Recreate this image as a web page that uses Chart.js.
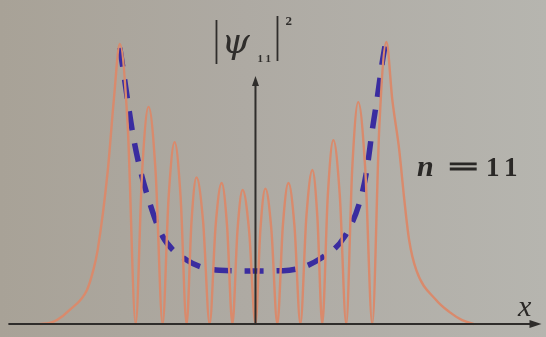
<!DOCTYPE html>
<html>
<head>
<meta charset="utf-8">
<script src="https://cdn.jsdelivr.net/npm/chart.js@4/dist/chart.umd.min.js"></script>
<style>
  html, body { margin: 0; padding: 0; }
  body { width: 546px; height: 337px; background: linear-gradient(90deg, #a8a297 0%, #aeaaa3 45%, #b6b5af 100%); }
  canvas { display: block; }
</style>
</head>
<body>
<canvas id="psiChart" width="546" height="337"></canvas>
<script>
// |psi_11|^2 density, read as (x, y) points: tails, peaks, shoulders and zeros
const psiX = [-7.2, -6.87, -6.63, -6.2, -5.63, -5.43, -5.27, -4.93, -4.73, -4.53, -4.265,
              -4.00, -3.785, -3.57, -3.335, -3.10, -2.90, -2.70, -2.50, -2.30, -2.135, -1.97, -1.75,
              -1.53, -1.33, -1.13, -0.95, -0.77, -0.60, -0.43, -0.215,
              0, 0.165, 0.33, 0.53, 0.73, 0.915, 1.10, 1.30, 1.50, 1.70, 1.90, 2.065,
              2.23, 2.415, 2.60, 2.815, 3.03, 3.23, 3.43, 3.665, 3.90, 4.135, 4.37,
              4.57, 4.80, 4.97, 5.13, 5.37, 6.03, 6.47, 6.90, 7.30];
const psiY = [0, 0.004, 0.014, 0.05, 0.12, 0.185, 0.262, 0.546, 0.794, 0.993, 0.70,
              0, 0.54, 0.77, 0.54, 0, 0.45, 0.645, 0.45, 0, 0.365, 0.52, 0.365,
              0, 0.35, 0.50, 0.35, 0, 0.333, 0.475, 0.333,
              0, 0.336, 0.48, 0.336, 0, 0.35, 0.50, 0.35, 0, 0.382, 0.546, 0.382,
              0, 0.456, 0.652, 0.456, 0, 0.55, 0.787, 0.55, 0, 0.70, 1.0,
              0.794, 0.617, 0.44, 0.298, 0.191, 0.085, 0.043, 0.014, 0];

// classical probability density (dashed)
const classX = [-4.53, -4.43, -4.27, -4.10, -3.87, -3.53, -3.13, -2.30, -1.20, 0,
                1.13, 2.20, 2.97, 3.47, 3.70, 3.90, 4.07, 4.23, 4.33];
const classY = [0.979, 0.911, 0.794, 0.677, 0.557, 0.429, 0.316, 0.227, 0.191, 0.188,
                0.191, 0.234, 0.309, 0.429, 0.535, 0.688, 0.805, 0.926, 0.99];

const xRange = [-8.53, 9.7];
const yRange = [-0.046, 1.149];
const xAxisEnd = [-8.25, 9.35];
const yAxisTop = 0.865;

const toPoints = (xs, ys) => xs.map((x, i) => ({ x: x, y: ys[i] }));

// axes, arrows and labels drawn on top of the plot
const decorations = {
  id: 'decorations',
  afterDatasetsDraw(chart) {
    const ctx = chart.ctx;
    const sx = chart.scales.x, sy = chart.scales.y;
    const y0 = sy.getPixelForValue(0);
    const x0 = sx.getPixelForValue(0);
    const xl = sx.getPixelForValue(xAxisEnd[0]);
    const xr = sx.getPixelForValue(xAxisEnd[1]);
    const yt = sy.getPixelForValue(yAxisTop);

    ctx.save();
    ctx.strokeStyle = '#2f2d2b';
    ctx.fillStyle = '#2f2d2b';
    ctx.lineWidth = 2;
    ctx.beginPath();
    ctx.moveTo(xl, y0); ctx.lineTo(xr, y0);
    ctx.moveTo(x0, y0); ctx.lineTo(x0, yt + 4);
    ctx.stroke();

    // arrow heads
    ctx.beginPath();
    ctx.moveTo(xr + 6, y0); ctx.lineTo(xr - 6, y0 - 4); ctx.lineTo(xr - 6, y0 + 4);
    ctx.closePath(); ctx.fill();
    ctx.beginPath();
    ctx.moveTo(x0, yt - 4); ctx.lineTo(x0 - 3.5, yt + 6); ctx.lineTo(x0 + 3.5, yt + 6);
    ctx.closePath(); ctx.fill();

    // |psi_11|^2
    ctx.lineWidth = 1.8;
    ctx.beginPath();
    ctx.moveTo(x0 - 39, 20); ctx.lineTo(x0 - 39, 64);
    ctx.moveTo(x0 + 22, 16); ctx.lineTo(x0 + 22, 61);
    ctx.stroke();
    ctx.textBaseline = 'alphabetic';
    ctx.font = 'italic 36px "DejaVu Serif", serif';
    ctx.fillText('\u03C8', x0 - 34, 53);
    ctx.font = 'bold 11px "Liberation Serif", serif';
    ctx.fillText('1', x0 + 2, 62);
    ctx.fillText('1', x0 + 10, 62);
    ctx.font = 'bold 13px "Liberation Serif", serif';
    ctx.fillText('2', x0 + 30, 25);

    // n = 11
    ctx.fillStyle = '#2a2826';
    ctx.strokeStyle = '#2a2826';
    ctx.font = 'bold italic 30px "Liberation Serif", serif';
    ctx.fillText('n', 417, 176);
    ctx.font = 'bold 27px "Liberation Serif", serif';
    ctx.save();
    ctx.translate(448, 176);
    ctx.scale(2.0, 1);
    ctx.lineWidth = 0.9;
    ctx.fillText('=', 0, 0);
    ctx.strokeText('=', 0, 0);
    ctx.restore();
    ctx.fillText('1', 486, 176);
    ctx.fillText('1', 504, 176);

    // x label
    ctx.font = 'italic 30px "Liberation Serif", serif';
    ctx.fillText('x', 518, 316);
    ctx.restore();
  }
};

new Chart(document.getElementById('psiChart'), {
  type: 'scatter',
  data: {
    datasets: [
      {
        data: toPoints(psiX, psiY),
        showLine: true,
        borderColor: '#d98a6c',
        borderWidth: 2.4,
        pointRadius: 0,
        cubicInterpolationMode: 'monotone'
      },
      {
        data: toPoints(classX, classY),
        showLine: true,
        borderColor: '#3a2ca0',
        borderWidth: 5.5,
        borderDash: [19, 13],
        pointRadius: 0,
        cubicInterpolationMode: 'monotone'
      }
    ]
  },
  options: {
    responsive: false,
    animation: false,
    layout: { padding: 0 },
    plugins: { legend: { display: false }, tooltip: { enabled: false } },
    scales: {
      x: { type: 'linear', min: xRange[0], max: xRange[1], display: false },
      y: { type: 'linear', min: yRange[0], max: yRange[1], display: false }
    }
  },
  plugins: [decorations]
});
</script>
</body>
</html>
